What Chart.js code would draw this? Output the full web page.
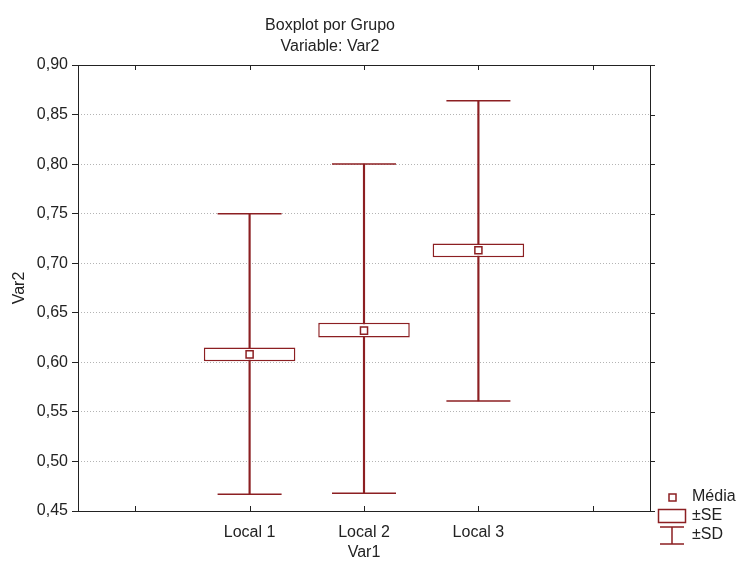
<!DOCTYPE html>
<html lang="pt">
  <head>
    <meta charset="UTF-8" />
    <title>Boxplot por Grupo</title>
    <script src="https://cdn.jsdelivr.net/npm/chart.js"></script>
    <style>
      html, body {
        margin: 0;
        padding: 0;
        background: #fff;
      }
      #wrap {
        width: 739px;
        height: 562px;
      }
    </style>
  </head>
  <body>
    <div id="wrap"><canvas id="boxChart" width="739" height="562"></canvas></div>

    <script>
      // data
      const groups = ['', 'Local 1', 'Local 2', 'Local 3', ''];
      const means  = [null, 0.608, 0.632, 0.713, null];
      const seLow  = [null, 0.601, 0.625, 0.706, null];
      const seHigh = [null, 0.615, 0.640, 0.720, null];
      const sdLow  = [null, 0.467, 0.468, 0.561, null];
      const sdHigh = [null, 0.750, 0.800, 0.864, null];
      const yTicks = [0.45, 0.50, 0.55, 0.60, 0.65, 0.70, 0.75, 0.80, 0.85, 0.90];

      const red = '#8c1f22';
      const ink = '#222';
      Chart.defaults.font.family = '"Liberation Sans", Arial, sans-serif';
      Chart.defaults.font.size = 16;
      Chart.defaults.color = ink;

      const range = (lo, hi) => lo.map((v, i) => (v == null ? null : [v, hi[i]]));

      // frame, inner x ticks, right y ticks and the legend
      const decorations = {
        id: 'decorations',
        afterDraw(chart) {
          const { ctx, chartArea: a, scales } = chart;
          ctx.save();
          ctx.strokeStyle = ink;
          ctx.lineWidth = 1;
          ctx.strokeRect(a.left + 0.5, a.top + 0.5, a.right - a.left, a.bottom - a.top);
          ctx.beginPath();
          groups.forEach((g, i) => {
            const x = Math.round(scales.x.getPixelForValue(i)) + 0.5;
            ctx.moveTo(x, a.top);
            ctx.lineTo(x, a.top + 5);
            ctx.moveTo(x, a.bottom);
            ctx.lineTo(x, a.bottom - 5);
          });
          yTicks.forEach(v => {
            const y = Math.round(scales.y.getPixelForValue(v)) + 0.5;
            ctx.moveTo(a.right, y);
            ctx.lineTo(a.right + 5, y);
          });
          ctx.stroke();

          // legend
          ctx.strokeStyle = red;
          ctx.lineWidth = 1.5;
          ctx.fillStyle = '#fff';
          ctx.fillRect(669, 494, 7, 7);
          ctx.strokeRect(669, 494, 7, 7);
          ctx.strokeRect(658.5, 509.5, 27, 13);
          ctx.beginPath();
          ctx.moveTo(660, 527);
          ctx.lineTo(684, 527);
          ctx.moveTo(672, 527);
          ctx.lineTo(672, 544);
          ctx.moveTo(660, 544);
          ctx.lineTo(684, 544);
          ctx.stroke();
          ctx.fillStyle = ink;
          ctx.font = '16px "Liberation Sans", Arial, sans-serif';
          ctx.textBaseline = 'middle';
          ctx.fillText('Média', 692, 497);
          ctx.fillText('±SE', 692, 516);
          ctx.fillText('±SD', 692, 535);
          ctx.restore();
        }
      };

      const chart = new Chart(document.getElementById('boxChart'), {
        type: 'bar',
        data: {
          labels: groups,
          datasets: [
            {
              type: 'line',
              label: 'Média',
              data: means,
              showLine: false,
              pointStyle: 'rect',
              pointRadius: 5,
              pointHoverRadius: 5,
              pointBackgroundColor: '#fff',
              pointBorderColor: red,
              pointBorderWidth: 1.5,
              order: 1
            },
            {
              type: 'line',
              label: 'SD top',
              data: sdHigh,
              showLine: false,
              pointStyle: 'line',
              pointRadius: 32,
              pointHoverRadius: 32,
              pointBorderColor: red,
              pointBorderWidth: 1.5,
              order: 2
            },
            {
              type: 'line',
              label: 'SD bottom',
              data: sdLow,
              showLine: false,
              pointStyle: 'line',
              pointRadius: 32,
              pointHoverRadius: 32,
              pointBorderColor: red,
              pointBorderWidth: 1.5,
              order: 2
            },
            {
              label: '±SE',
              data: range(seLow, seHigh),
              backgroundColor: '#fff',
              borderColor: red,
              borderWidth: 1.5,
              borderSkipped: false,
              barPercentage: 0.8,
              categoryPercentage: 1,
              grouped: false,
              order: 3
            },
            {
              label: '±SD',
              data: range(sdLow, sdHigh),
              backgroundColor: red,
              barThickness: 1.5,
              grouped: false,
              order: 4
            }
          ]
        },
        options: {
          responsive: false,
          animation: false,
          events: [],
          layout: { padding: { right: 89, top: 0, left: 10, bottom: 0 } },
          plugins: {
            legend: { display: false },
            tooltip: { enabled: false },
            title: {
              display: true,
              text: ['Boxplot por Grupo', 'Variable: Var2'],
              font: { size: 16, weight: 'normal', lineHeight: 1.3 },
              color: ink,
              padding: { top: 15.6, bottom: 7.8 }
            }
          },
          scales: {
            x: {
              grid: { display: false },
              border: { display: false },
              ticks: { padding: 4, color: ink },
              title: { display: true, text: 'Var1', color: ink, padding: 0 },
              afterFit(scale) { scale.height = 51; }
            },
            y: {
              min: 0.45,
              max: 0.90,
              grid: {
                color: '#b4b4b4',
                tickColor: ink,
                tickLength: 6,
                lineWidth: 1
              },
              border: { display: false, dash: [1, 2] },
              ticks: {
                stepSize: 0.05,
                padding: 4,
                color: ink,
                callback: v => v.toFixed(2).replace('.', ',')
              },
              title: { display: true, text: 'Var2', color: ink, padding: 0 },
              afterFit(scale) { scale.width = 68; }
            }
          }
        },
        plugins: [decorations]
      });
    </script>
  </body>
</html>
